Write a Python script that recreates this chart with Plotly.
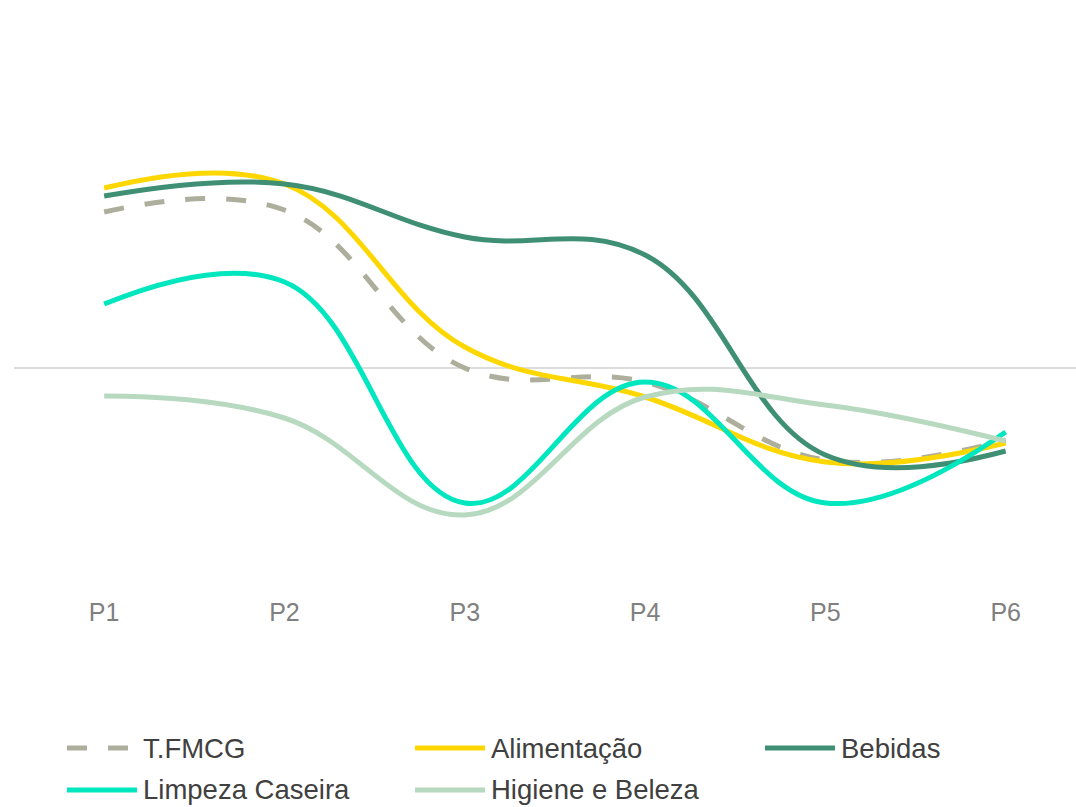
import plotly.graph_objects as go

# Period labels on the x axis
periods = ["P1", "P2", "P3", "P4", "P5", "P6"]

# Series values (variation, %)
tfmcg = [7.8, 7.9, 0.0, -0.7, -4.6, -3.6]
alimentacao = [9.0, 9.2, 1.05, -1.45, -4.7, -3.75]
bebidas = [8.6, 9.2, 6.55, 5.65, -4.35, -4.15]
limpeza = [3.2, 4.3, -6.75, -0.7, -6.75, -3.2]
higiene = [-1.4, -2.5, -7.35, -1.45, -1.85, -3.65]

series_names = ["T.FMCG", "Alimentação", "Bebidas", "Limpeza Caseira", "Higiene e Beleza"]
series_values = [tfmcg, alimentacao, bebidas, limpeza, higiene]
series_colors = ["#AEAE9C", "#FFD700", "#3E8F74", "#00E6BE", "#B7D9C0"]
series_dash = ["20px,21px", "solid", "solid", "solid", "solid"]

W, H = 1076, 807
M_L, M_R, M_T, M_B = 14, 0, 30, 212
PLOT_W = W - M_L - M_R
PLOT_H = H - M_T - M_B

fig = go.Figure()
for name, vals, col, dash in zip(series_names, series_values, series_colors, series_dash):
    fig.add_trace(go.Scatter(
        x=periods, y=vals, name=name, mode="lines",
        line=dict(color=col, width=5, dash=dash, shape="spline", smoothing=1.15),
        showlegend=False, hoverinfo="x+y+name",
    ))


def px_x(px):
    return (px - M_L) / PLOT_W


def px_y(py):
    return (H - M_B - py) / PLOT_H


# Legend drawn as a 3-column grid below the chart
legend_cols = [67, 415, 765]
legend_rows = [748, 790]
shapes = []
annotations = []
for i, (name, col, dash) in enumerate(zip(series_names, series_colors, series_dash)):
    cx = legend_cols[i % 3]
    cy = legend_rows[i // 3]
    shapes.append(dict(
        type="line", xref="paper", yref="paper",
        x0=px_x(cx), x1=px_x(cx + 70), y0=px_y(cy), y1=px_y(cy),
        line=dict(color=col, width=5, dash=dash),
    ))
    annotations.append(dict(
        xref="paper", yref="paper", x=px_x(cx + 74), y=px_y(cy),
        xanchor="left", yanchor="middle", showarrow=False, text=name,
        font=dict(family="Liberation Sans, Arial, sans-serif", size=27.5, color="#404040"),
    ))

fig.update_layout(
    width=W, height=H,
    margin=dict(l=M_L, r=M_R, t=M_T, b=M_B),
    paper_bgcolor="white", plot_bgcolor="white",
    shapes=shapes, annotations=annotations,
    xaxis=dict(
        type="category", range=[-0.5, 5.39], showgrid=False, zeroline=False,
        showline=False, ticks="",
        tickfont=dict(family="Liberation Sans, Arial, sans-serif", size=25, color="#808080"),
    ),
    yaxis=dict(
        range=[-11.35, 16.9], showgrid=False, showticklabels=False, ticks="",
        zeroline=True, zerolinecolor="#DDDDDD", zerolinewidth=2,
    ),
)

fig.write_html("out.html")
